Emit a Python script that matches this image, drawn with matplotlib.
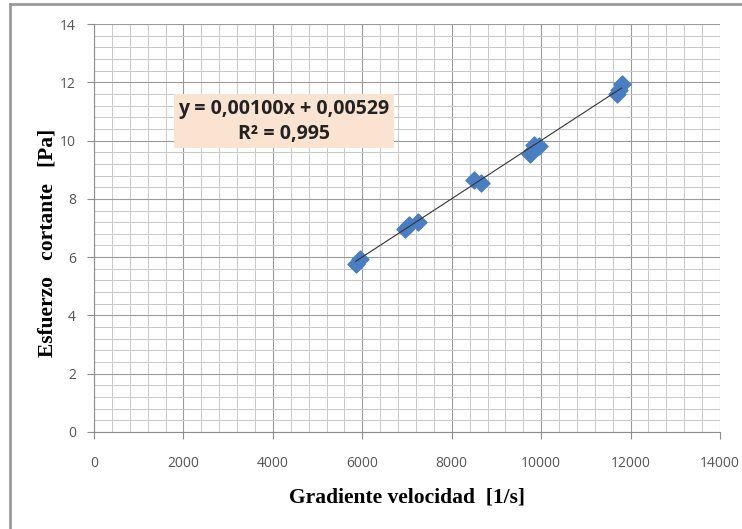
import numpy as np
import matplotlib.pyplot as plt
from matplotlib.ticker import MultipleLocator
from matplotlib.lines import Line2D

# measured shear rate [1/s] and shear stress [Pa]
gradiente = [5850, 5950, 6950, 7050, 7250, 8500, 8650,
             9750, 9800, 9850, 9950, 11700, 11750, 11800]
esfuerzo = [5.75, 5.95, 6.95, 7.1, 7.2, 8.65, 8.55,
            9.55, 9.65, 9.85, 9.8, 11.6, 11.75, 11.95]

# linear fit coefficients
pendiente = 0.00100
intercepto = 0.00529
r2 = 0.995

fig = plt.figure(figsize=(7.42, 5.29), dpi=100)
ax = fig.add_axes([0.1267, 0.1834, 0.8437, 0.7712])

ax.set_xlim(0, 14000)
ax.set_ylim(0, 14)
ax.xaxis.set_major_locator(MultipleLocator(2000))
ax.xaxis.set_minor_locator(MultipleLocator(400))
ax.yaxis.set_major_locator(MultipleLocator(2))
ax.yaxis.set_minor_locator(MultipleLocator(0.4))
ax.grid(which='major', color='#9a9a9a', lw=0.8)
ax.grid(which='minor', color='#c8c8c8', lw=0.7)
ax.set_axisbelow(True)
for s in ['top', 'right']:
    ax.spines[s].set_visible(False)
for s in ['left', 'bottom']:
    ax.spines[s].set_color('#8c8c8c')
ax.tick_params(which='major', length=5, color='#8c8c8c', labelsize=10,
               labelcolor='#555555', pad=8)
ax.tick_params(axis='x', which='major', pad=12)
ax.tick_params(which='minor', length=0)
for lab in ax.get_xticklabels() + ax.get_yticklabels():
    lab.set_family('Open Sans')

xs = np.array([min(gradiente), max(gradiente)])
ax.plot(xs, pendiente * xs + intercepto, color='#333333', lw=0.8, zorder=3)
ax.scatter(gradiente, esfuerzo, marker='D', s=75, color='#4a7ec2',
           edgecolors='#4a7ec2', zorder=2)

ax.text(4250, 10.66,
        f'y = {pendiente:.5f}x + {intercepto:.5f}\nR² = {r2:.3f}'.replace('.', ','),
        ha='center', va='center', fontsize=14, fontweight='bold',
        family='Open Sans', color='#222222', linespacing=1.3,
        bbox=dict(boxstyle='square,pad=0.25', fc='#fbe3d2', ec='none'))

ax.set_xlabel('Gradiente velocidad  [1/s]', family='Liberation Serif',
              fontweight='bold', fontsize=15.5)
ax.xaxis.set_label_coords(0.5, -0.137)
ax.set_ylabel('Esfuerzo   cortante   [Pa]', family='Liberation Serif',
              fontweight='bold', fontsize=15.5)
ax.yaxis.set_label_coords(-0.058, 0.463)

# chart frame
fig.add_artist(Line2D([10 / 742, 10 / 742], [0, 1 - 4 / 529],
                      color='#9a9a9a', lw=2))
fig.add_artist(Line2D([10 / 742, 1], [1 - 4 / 529, 1 - 4 / 529],
                      color='#9a9a9a', lw=2))

fig.savefig('out.png', dpi=100)
